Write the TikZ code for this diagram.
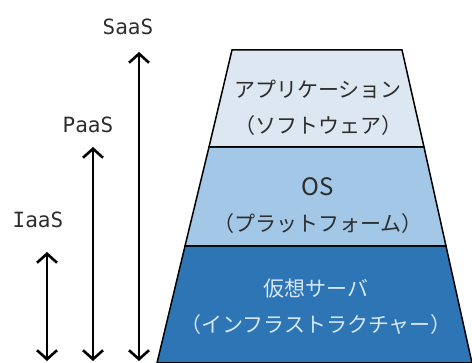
\documentclass[tikz,border=0pt]{standalone}
\usepackage{fontspec}
\usepackage{tikz}
\usetikzlibrary{arrows.meta,positioning}
\newfontfamily\jpfont{Noto Sans CJK JP}
\newfontfamily\svcfont{DejaVu Sans Mono}
\definecolor{appblue}{RGB}{221,231,241}
\definecolor{osblue}{RGB}{162,199,231}
\definecolor{hwblue}{RGB}{46,117,182}
\definecolor{darktext}{RGB}{45,45,45}
\definecolor{lighttext}{RGB}{214,232,247}

\begin{document}
\begin{tikzpicture}[x=1pt,y=-1pt,
  layer/.style={draw=black, line width=1.5pt, line join=miter},
  layertext/.style={align=center, inner sep=0pt, font=\jpfont\fontsize{21}{36}\selectfont},
  svc/.style={inner sep=0pt, font=\svcfont\fontsize{21}{24}\selectfont, text=darktext},
  span/.style={line width=2.6pt, {Straight Barb[length=9pt,width=20pt,line width=2.6pt]}-{Straight Barb[length=9pt,width=20pt,line width=2.6pt]}}]
\useasboundingbox (0,0) rectangle (472,363);
% Stack corners
\coordinate (tl) at (232,50);   \coordinate (tr) at (402,50);
\coordinate (ml) at (209,147);  \coordinate (mr) at (424,147);
\coordinate (ll) at (185,246);  \coordinate (lr) at (446,246);
\coordinate (bl) at (157,363);  \coordinate (br) at (472,363);
% Layers
\filldraw[layer, fill=hwblue] (ll) -- (lr) -- (br) -- (bl) -- cycle;
\filldraw[layer, fill=osblue] (ml) -- (mr) -- (lr) -- (ll) -- cycle;
\filldraw[layer, fill=appblue] (tl) -- (tr) -- (mr) -- (ml) -- cycle;
% Layer labels
\node[layertext, text=darktext] (app) at (318,108) {アプリケーション\\（ソフトウェア）};
\node[layertext, text=darktext] (os) at (318,206) {{\fontsize{24}{36}\selectfont OS}\\（プラットフォーム）};
\node[layertext, text=lighttext] (hw) at (316,307) {仮想サーバ\\（インフラストラクチャー）};
% Service models
\node[svc] (saas) at (128,27) {SaaS};
\node[svc] (paas) at (88,125) {PaaS};
\node[svc] (iaas) at (38,220) {IaaS};
\coordinate (saas top) at (139,52);  \coordinate (saas bot) at (139,361);
\coordinate (paas top) at (93,147);  \coordinate (paas bot) at (93,361);
\coordinate (iaas top) at (47,252);  \coordinate (iaas bot) at (47,361);
\draw[span] (saas top) -- (saas bot);
\draw[span] (paas top) -- (paas bot);
\draw[span] (iaas top) -- (iaas bot);
\end{tikzpicture}
\end{document}
